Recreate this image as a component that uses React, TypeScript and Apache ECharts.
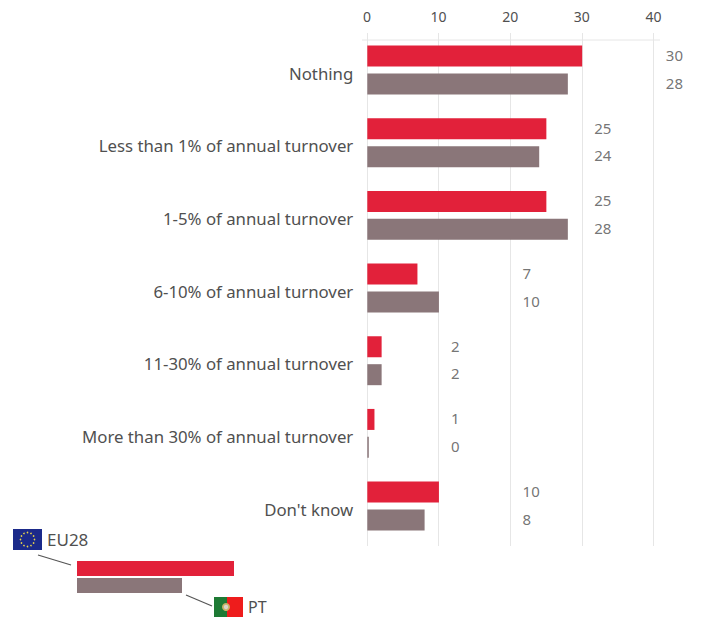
import React, { useEffect, useRef } from "react";
import * as echarts from "echarts";

const categories = [
  "Nothing",
  "Less than 1% of annual turnover",
  "1-5% of annual turnover",
  "6-10% of annual turnover",
  "11-30% of annual turnover",
  "More than 30% of annual turnover",
  "Don't know",
];
const eu28Values = [30, 25, 25, 7, 2, 1, 10];
const ptValues = [28, 24, 28, 10, 2, 0, 8];
// Axis value that each category's pair of value labels hangs from.
const labelColumns = [40, 30, 30, 20, 10, 10, 20];
const axisTicks = [0, 10, 20, 30, 40];

const RED = "#E2213A";
const GREY = "#8A7679";
const TEXT = "#505050";
const RULE = "#E6E6E6";
const FONT = "'Noto Sans', sans-serif";

function valueLabels(values: number[], offsetY: number, color: string, name: string) {
  return {
    type: "scatter",
    name,
    xAxisIndex: 0,
    yAxisIndex: 0,
    symbolSize: 0,
    silent: true,
    itemStyle: { color: "transparent" },
    data: values.map((v, i) => [labelColumns[i], i, v]),
    label: {
      show: true,
      position: "right",
      distance: 0,
      offset: [12, offsetY],
      color,
      fontFamily: FONT,
      fontSize: 15,
      formatter: (p: any) => String(p.value[2]),
    },
  };
}

// Twelve gold dots on a ring, for the EU flag in the key.
function euStars(cx: number, cy: number, r: number) {
  const out: any[] = [];
  for (let k = 0; k < 12; k++) {
    const a = (k * Math.PI) / 6;
    out.push({
      type: "circle",
      shape: { cx: cx + r * Math.cos(a), cy: cy + r * Math.sin(a), r: 0.8 },
      style: { fill: "#E8D44A" },
    });
  }
  return out;
}

const keyGraphics: any[] = [
  // top rule across the value axis
  { type: "line", shape: { x1: 362, y1: 40, x2: 660, y2: 40 }, style: { stroke: RULE, lineWidth: 1 } },
  // key
  { type: "rect", shape: { x: 13, y: 529, width: 29, height: 21 }, style: { fill: "#1B2A8A" } },
  ...euStars(27.5, 539.5, 7),
  { type: "text", x: 47, y: 539, style: { text: "EU28", fill: TEXT, font: `17px ${FONT}`, verticalAlign: "middle" } },
  { type: "line", shape: { x1: 38, y1: 555, x2: 71, y2: 565 }, style: { stroke: "#555", lineWidth: 1.2 } },
  { type: "rect", shape: { x: 77, y: 561, width: 157, height: 15 }, style: { fill: RED } },
  { type: "rect", shape: { x: 77, y: 578, width: 105, height: 15 }, style: { fill: GREY } },
  { type: "line", shape: { x1: 186, y1: 595, x2: 212, y2: 606 }, style: { stroke: "#555", lineWidth: 1.2 } },
  { type: "rect", shape: { x: 214, y: 597, width: 13, height: 20 }, style: { fill: "#1E7A34" } },
  { type: "rect", shape: { x: 227, y: 597, width: 16, height: 20 }, style: { fill: "#EE1C1C" } },
  { type: "circle", shape: { cx: 226, cy: 607, r: 4 }, style: { fill: "#C9B46A" } },
  { type: "circle", shape: { cx: 226, cy: 607, r: 2.2 }, style: { fill: "#D9D4CC" } },
  { type: "text", x: 248, y: 606.5, style: { text: "PT", fill: TEXT, font: `16px ${FONT}`, verticalAlign: "middle" } },
];

export default function App() {
  const ref = useRef<HTMLDivElement>(null);

  useEffect(() => {
    const chart = echarts.init(ref.current!, undefined, { renderer: "svg" });
    chart.setOption({
      animation: false,
      backgroundColor: "#fff",
      grid: [
        { left: 367.3, top: 33.7, width: 286.5, height: 508.7 },
        { left: 367, top: 33, width: 286.5, height: 513 },
      ],
      xAxis: [
        { type: "value", gridIndex: 0, min: 0, max: 40, interval: 10, show: false },
        {
          type: "value",
          gridIndex: 1,
          position: "top",
          min: 0,
          max: 40,
          interval: 10,
          axisLine: { show: false },
          axisTick: { show: false },
          splitLine: { show: true, lineStyle: { color: RULE, width: 1 } },
          axisLabel: {
            color: TEXT,
            fontFamily: FONT,
            fontSize: 14,
            margin: 10,
            formatter: (v: number) => (axisTicks.includes(v) ? String(v) : ""),
          },
        },
      ],
      yAxis: [
        {
          type: "category",
          gridIndex: 0,
          inverse: true,
          data: categories,
          axisLine: { show: false },
          axisTick: { show: false },
          splitLine: { show: false },
          axisLabel: {
            color: TEXT,
            fontFamily: FONT,
            fontSize: 16.8,
            margin: 14,
            verticalAlign: "top",
            lineHeight: 6,
          },
        },
        { type: "value", gridIndex: 1, show: false },
      ],
      series: [
        {
          type: "bar",
          name: "EU28",
          xAxisIndex: 0,
          yAxisIndex: 0,
          data: eu28Values,
          barWidth: 21,
          barGap: "33%",
          itemStyle: { color: RED },
        },
        {
          type: "bar",
          name: "PT",
          xAxisIndex: 0,
          yAxisIndex: 0,
          data: ptValues,
          barWidth: 21,
          barGap: "33%",
          barMinHeight: 1.5,
          itemStyle: { color: GREY },
        },
        valueLabels(eu28Values, -15, TEXT, "EU28 labels"),
        valueLabels(ptValues, 12.5, TEXT, "PT labels"),
      ],
      graphic: { elements: keyGraphics },
    });
    return () => chart.dispose();
  }, []);

  return (
    <div
      ref={ref}
      style={{ position: "absolute", left: 0, top: 0, width: 701, height: 617, background: "#fff" }}
    />
  );
}
